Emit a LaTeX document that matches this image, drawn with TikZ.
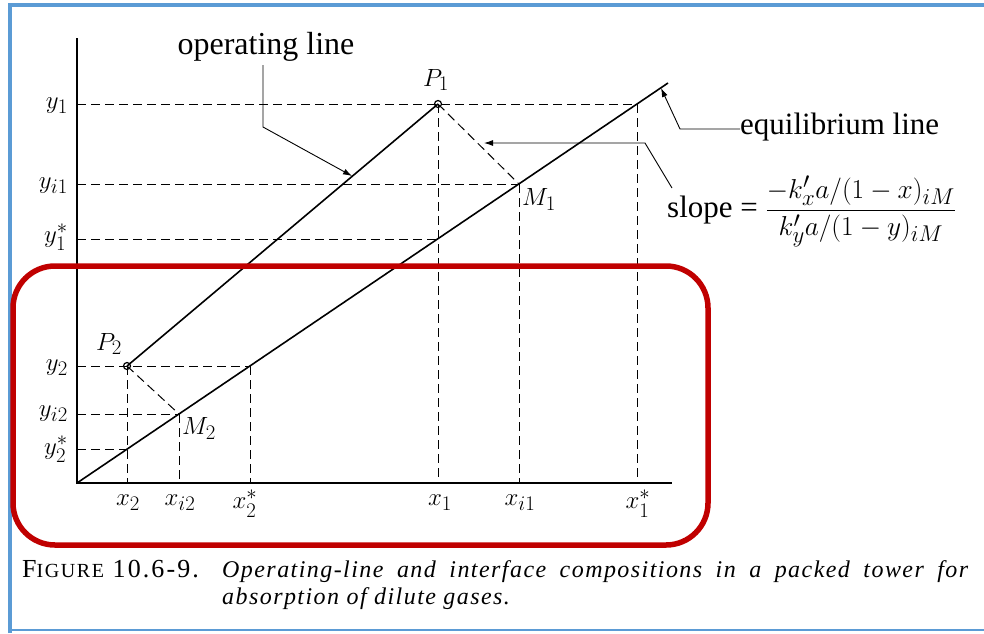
\documentclass[tikz,border=0pt]{standalone}
\usepackage{amsmath}
\usepackage{graphicx}
\usepackage{fontspec}
\setmainfont{Liberation Serif}
\usetikzlibrary{arrows.meta}
\definecolor{frameblue}{HTML}{5B9BD5}
\definecolor{boxred}{HTML}{C00000}
\begin{document}
\begin{tikzpicture}[x=1pt,y=-1pt,
  axisline/.style={line width=1.2pt},
  curveline/.style={line width=1.6pt},
  guide/.style={line width=1pt, dash pattern=on 9pt off 5pt},
  leader/.style={line width=0.9pt},
  tip/.style={-{Latex[length=9pt,width=6pt]}},
  lbl/.style={font=\fontsize{30}{34}\selectfont, inner sep=0pt},
  txt/.style={font=\fontsize{31}{35}\selectfont, inner sep=0pt},
  pmark/.style={circle, draw, line width=1.2pt, minimum size=7pt, inner sep=0pt}]
\useasboundingbox (0,0) rectangle (984,633);
% frame
\draw[frameblue, line width=4pt] (9.5,633) -- (9.5,5) -- (984,5);
\draw[frameblue, line width=2pt] (9.5,630) -- (984,630);
% key points
\coordinate (O) at (77,483);
\coordinate (ytop) at (77,38);
\coordinate (xend) at (672,483);
\coordinate (P1c) at (438,104);
\coordinate (P2c) at (127,366);
\coordinate (M1) at (519,184);
\coordinate (M2) at (179,414);
\coordinate (E1) at (438,239);
\coordinate (E1s) at (637,104);
\coordinate (E2s) at (250,366);
\coordinate (E2) at (127,449);
\coordinate (Etop) at (668,83);
% axes
\draw[axisline] (ytop) -- (O) -- (xend);
% guides horizontal
\draw[guide] (77,104) -- (E1s);
\draw[guide] (77,184) -- (M1);
\draw[guide] (77,239) -- (E1);
\draw[guide] (77,366) -- (E2s);
\draw[guide] (77,414) -- (M2);
\draw[guide] (77,449) -- (E2);
% guides vertical
\draw[guide] (P1c) -- (438,483);
\draw[guide] (M1) -- (519,483);
\draw[guide] (E1s) -- (637,483);
\draw[guide] (P2c) -- (127,483);
\draw[guide] (M2) -- (179,483);
\draw[guide] (E2s) -- (250,483);
% tie lines
\draw[guide] (P1c) -- (M1);
\draw[guide] (P2c) -- (M2);
% lines
\draw[curveline] (P2c) -- (P1c);
\draw[curveline] (O) -- (Etop);
\node[pmark] (P1) at (P1c) {};
\node[pmark] (P2) at (P2c) {};
% point labels
\node[lbl] (lP1) at (436,80) {$P_1$};
\node[lbl] (lP2) at (109,344) {$P_2$};
\node[lbl, anchor=north west] (lM1) at (522,188) {$M_1$};
\node[lbl, anchor=north west] (lM2) at (182,417) {$M_2$};
% y labels
\node[lbl, anchor=east] (ly1) at (68,106) {$y_1$};
\node[lbl, anchor=east] (lyi1) at (68,186) {$y_{i1}$};
\node[lbl, anchor=east] (lys1) at (68,237) {$y_1^*$};
\node[lbl, anchor=east] (ly2) at (68,368) {$y_2$};
\node[lbl, anchor=east] (lyi2) at (68,414) {$y_{i2}$};
\node[lbl, anchor=east] (lys2) at (68,449) {$y_2^*$};
% x labels
\node[lbl, anchor=north] (lx2) at (128,495) {$x_2$};
\node[lbl, anchor=north] (lxi2) at (180,495) {$x_{i2}$};
\node[lbl, anchor=north] (lxs2) at (245,490) {$x_2^*$};
\node[lbl, anchor=north] (lx1) at (440,495) {$x_1$};
\node[lbl, anchor=north] (lxi1) at (520,495) {$x_{i1}$};
\node[lbl, anchor=north] (lxs1) at (638,490) {$x_1^*$};
% operating line label
\node[txt, anchor=base, font=\fontsize{32}{36}\selectfont] (op) at (266,54) {operating line};
\coordinate (opA) at (263,65);
\coordinate (opB) at (263,127);
\coordinate (opC) at (352,176);
\draw[leader, tip] (opA) -- (opB) -- (opC);
% equilibrium line label
\node[txt, anchor=base west] (eq) at (740,134) {equilibrium line};
\coordinate (eqB) at (680,129);
\coordinate (eqC) at (661,88);
\draw[leader, tip] (eq.west |- eqB) -- (eqB) -- (eqC);
% slope label
\node[txt, anchor=base west] (slope) at (667,217) {slope =\ \scalebox{1.1}{$\dfrac{-k'_xa/(1-x)_{iM}}{k'_ya/(1-y)_{iM}}$}};
\coordinate (slA) at (672,188);
\coordinate (slB) at (645,143);
\coordinate (slC) at (484,143);
\draw[leader, tip] (slA) -- (slB) -- (slC);
% red box
\draw[boxred, line width=5.5pt, rounded corners=42pt] (13,266) rectangle (708,545);
% caption
\node[anchor=base west, inner sep=0pt, font=\fontsize{26}{30}\selectfont\addfontfeatures{LetterSpace=8}] (fig) at (22,577) {F{\fontsize{20}{24}\selectfont IGURE} 10.6-9.};
\node[anchor=base west, inner sep=0pt, font=\fontsize{24}{28}\selectfont\itshape\addfontfeatures{LetterSpace=6}] (cap1) at (222,577) {\makebox[746pt][s]{Operating-line and interface compositions in a packed tower for}};
\node[anchor=base west, inner sep=0pt, font=\fontsize{24}{28}\selectfont\itshape\addfontfeatures{LetterSpace=6}] (cap2) at (222,604) {absorption of dilute gases.};
\end{tikzpicture}
\end{document}
